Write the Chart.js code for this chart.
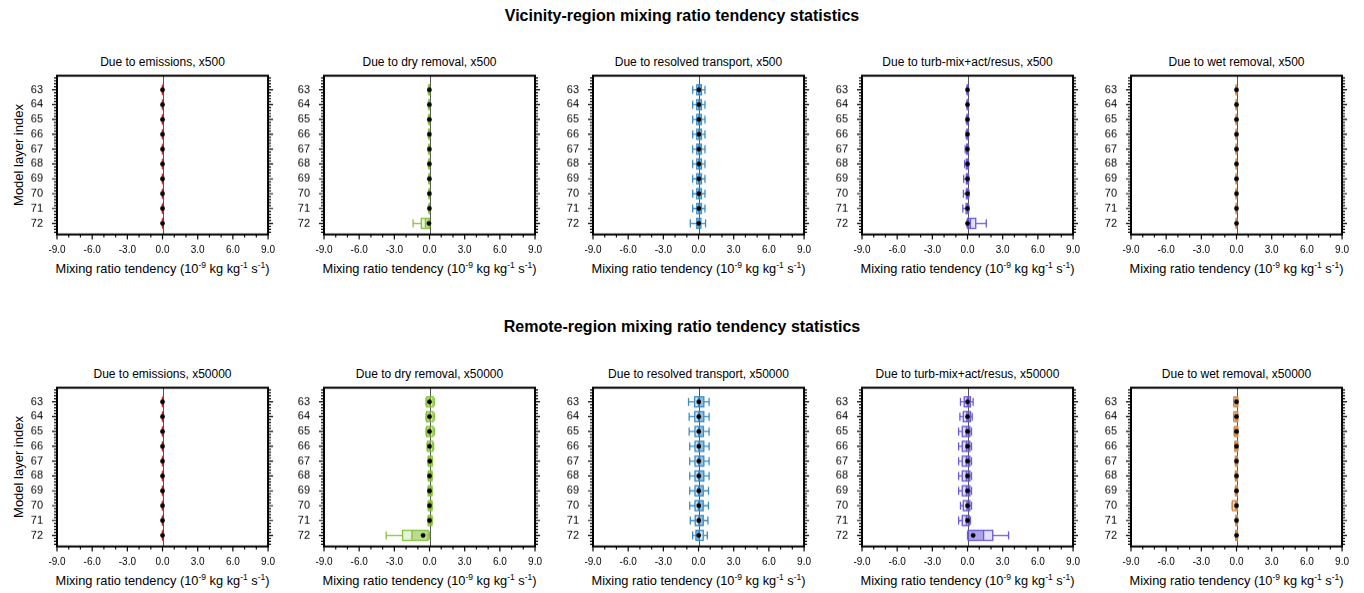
<!DOCTYPE html>
<html><head><meta charset="utf-8">
<script src="https://cdn.jsdelivr.net/npm/chart.js@4.4.1/dist/chart.umd.min.js"></script>
<style>
body{margin:0;background:#fff;width:1364px;height:593px;position:relative;overflow:hidden;font-family:"Liberation Sans",Arial,Helvetica,sans-serif;color:#000}
.t{position:absolute;white-space:nowrap;transform:translate(-50%,-50%);line-height:1;color:#000}
.main{font-weight:bold;font-size:16px}
.sub{font-size:12px}
.xt{font-size:12.8px}
.xt sup{font-size:8.5px;vertical-align:5px;line-height:0}
.yt{font-size:13px;transform:translate(-50%,-50%) rotate(-90deg)}
.box{position:absolute}
canvas{display:block}
</style></head><body>
<script>
// ---------- categories / labels ----------
const layers = [63, 64, 65, 66, 67, 68, 69, 70, 71, 72];
const xTickValues = [-9, -6, -3, 0, 3, 6, 9];
const rowTitles = ["Vicinity-region mixing ratio tendency statistics", "Remote-region mixing ratio tendency statistics"];
const processNames = ["emissions", "dry removal", "resolved transport", "turb-mix+act/resus", "wet removal"];
const rowFactors = ["x500", "x50000"];
const xAxisTitle = 'Mixing ratio tendency (10<sup>-9</sup> kg kg<sup>-1</sup> s<sup>-1</sup>)';
const yAxisTitle = "Model layer index";

// ---------- Vicinity region (x500) ----------
const vicEmisMin  = [0, 0, 0, 0, 0, 0, 0, 0, 0, 0];
const vicEmisQ1   = [0, 0, 0, 0, 0, 0, 0, 0, 0, 0];
const vicEmisMed  = [0, 0, 0, 0, 0, 0, 0, 0, 0, 0];
const vicEmisQ3   = [0, 0, 0, 0, 0, 0, 0, 0, 0, 0];
const vicEmisMax  = [0, 0, 0, 0, 0, 0, 0, 0, 0, 0];
const vicEmisMean = [0, 0, 0, 0, 0, 0, 0, 0, 0, 0];

const vicDryMin  = [-0.1, -0.1, -0.1, -0.1, -0.1, -0.1, -0.08, -0.08, -0.08, -1.4];
const vicDryQ1   = [-0.06, -0.06, -0.06, -0.06, -0.05, -0.05, -0.05, -0.04, -0.04, -0.7];
const vicDryMed  = [-0.03, -0.03, -0.03, -0.03, -0.02, -0.02, -0.02, -0.02, -0.02, -0.35];
const vicDryQ3   = [0, 0, 0, 0, 0, 0, 0, 0, 0, -0.02];
const vicDryMax  = [0, 0, 0, 0, 0, 0, 0, 0, 0, 0.02];
const vicDryMean = [-0.01, -0.01, -0.01, -0.01, -0.01, -0.01, -0.01, -0.01, -0.01, -0.05];

const vicTransMin  = [-0.5, -0.5, -0.5, -0.5, -0.5, -0.5, -0.5, -0.5, -0.5, -0.7];
const vicTransQ1   = [-0.15, -0.15, -0.15, -0.15, -0.15, -0.15, -0.15, -0.15, -0.15, -0.15];
const vicTransMed  = [0.02, 0.02, 0.02, 0.02, 0.02, 0.02, 0.02, 0.02, 0.02, 0.05];
const vicTransQ3   = [0.25, 0.25, 0.25, 0.25, 0.25, 0.25, 0.25, 0.25, 0.25, 0.2];
const vicTransMax  = [0.55, 0.55, 0.55, 0.55, 0.55, 0.55, 0.55, 0.55, 0.55, 0.6];
const vicTransMean = [0.03, 0.03, 0.03, 0.03, 0.03, 0.03, 0.03, 0.03, 0.03, 0.02];

const vicTurbMin  = [-0.05, -0.06, -0.1, -0.12, -0.2, -0.25, -0.33, -0.35, -0.4, -0.05];
const vicTurbQ1   = [-0.03, -0.03, -0.05, -0.06, -0.08, -0.1, -0.1, -0.1, -0.12, 0.0];
const vicTurbMed  = [0, 0, 0, 0, 0, -0.01, -0.01, -0.01, -0.01, 0.25];
const vicTurbQ3   = [0.02, 0.02, 0.02, 0.03, 0.03, 0.04, 0.05, 0.06, 0.05, 0.7];
const vicTurbMax  = [0.04, 0.04, 0.05, 0.06, 0.07, 0.08, 0.1, 0.12, 0.1, 1.6];
const vicTurbMean = [0, 0, 0, 0, 0, 0, 0, 0, 0, 0];

const vicWetMin  = [-0.05, -0.05, -0.05, -0.05, -0.05, -0.05, -0.05, -0.05, -0.05, -0.05];
const vicWetQ1   = [-0.03, -0.03, -0.03, -0.03, -0.03, -0.03, -0.03, -0.03, -0.03, -0.03];
const vicWetMed  = [-0.01, -0.01, -0.01, -0.01, -0.01, -0.01, -0.01, -0.01, -0.01, -0.01];
const vicWetQ3   = [0, 0, 0, 0, 0, 0, 0, 0, 0, 0];
const vicWetMax  = [0.02, 0.02, 0.02, 0.02, 0.02, 0.02, 0.02, 0.02, 0.02, 0.02];
const vicWetMean = [0, 0, 0, 0, 0, 0, 0, 0, 0, 0];

// ---------- Remote region (x50000) ----------
const remEmisMin  = [0, 0, 0, 0, 0, 0, 0, 0, 0, 0];
const remEmisQ1   = [0, 0, 0, 0, 0, 0, 0, 0, 0, 0];
const remEmisMed  = [0, 0, 0, 0, 0, 0, 0, 0, 0, 0];
const remEmisQ3   = [0, 0, 0, 0, 0, 0, 0, 0, 0, 0];
const remEmisMax  = [0, 0, 0, 0, 0, 0, 0, 0, 0, 0];
const remEmisMean = [0, 0, 0, 0, 0, 0, 0, 0, 0, 0];

const remDryMin  = [-0.3, -0.3, -0.3, -0.2, -0.12, -0.12, -0.12, -0.12, -0.12, -3.7];
const remDryQ1   = [-0.25, -0.25, -0.25, -0.18, -0.1, -0.1, -0.1, -0.1, -0.1, -2.3];
const remDryMed  = [0.02, 0.02, 0.02, 0.02, 0.05, 0.05, 0.05, 0.05, 0.05, -1.5];
const remDryQ3   = [0.3, 0.3, 0.3, 0.28, 0.22, 0.2, 0.2, 0.2, 0.2, -0.12];
const remDryMax  = [0.42, 0.42, 0.42, 0.35, 0.25, 0.22, 0.22, 0.22, 0.22, 0.0];
const remDryMean = [0, 0, 0, 0, 0.02, 0, 0, 0, 0, -0.55];

const remTransMin  = [-0.85, -0.8, -0.8, -0.75, -0.75, -0.75, -0.75, -0.75, -0.7, -0.5];
const remTransQ1   = [-0.33, -0.32, -0.3, -0.3, -0.3, -0.3, -0.3, -0.3, -0.28, -0.22];
const remTransMed  = [0.0, 0.0, 0.02, 0.02, 0.02, 0.02, 0.0, 0.0, 0.02, 0.05];
const remTransQ3   = [0.45, 0.45, 0.42, 0.45, 0.45, 0.45, 0.4, 0.4, 0.4, 0.4];
const remTransMax  = [0.9, 0.9, 0.9, 0.9, 0.9, 0.9, 0.85, 0.85, 0.8, 0.75];
const remTransMean = [0.02, 0.02, 0.02, 0.02, 0.02, 0.02, 0.02, 0.02, 0.02, 0.02];

const remTurbMin  = [-0.6, -0.65, -0.76, -0.76, -0.76, -0.76, -0.76, -0.6, -0.76, 0.0];
const remTurbQ1   = [-0.28, -0.36, -0.45, -0.45, -0.45, -0.45, -0.45, -0.36, -0.45, 0.05];
const remTurbMed  = [-0.02, -0.05, -0.1, -0.1, -0.1, -0.1, -0.1, -0.05, -0.1, 1.37];
const remTurbQ3   = [0.25, 0.25, 0.2, 0.2, 0.2, 0.2, 0.2, 0.2, 0.15, 2.15];
const remTurbMax  = [0.48, 0.4, 0.34, 0.34, 0.34, 0.34, 0.34, 0.34, 0.25, 3.5];
const remTurbMean = [0, 0, 0, 0, 0, 0, 0, 0, 0, 0.48];

const remWetMin  = [-0.25, -0.25, -0.2, -0.15, -0.1, -0.1, -0.1, -0.38, -0.08, -0.08];
const remWetQ1   = [-0.22, -0.22, -0.18, -0.14, -0.09, -0.09, -0.09, -0.34, -0.07, -0.07];
const remWetMed  = [-0.05, -0.05, -0.05, -0.04, -0.03, -0.03, -0.03, -0.1, -0.02, -0.02];
const remWetQ3   = [0.1, 0.1, 0.1, 0.1, 0.08, 0.08, 0.08, 0.05, 0.08, 0.08];
const remWetMax  = [0.1, 0.1, 0.1, 0.1, 0.08, 0.08, 0.08, 0.05, 0.08, 0.08];
const remWetMean = [0, 0, 0, 0, 0, 0, 0, 0, 0, 0];

// ---------- assembly ----------
const processColors = ["#cc2222", "#86c23a", "#3a8cc6", "#6a5ad8", "#d08a4a"];
const panelStats = [
  [
    [vicEmisMin, vicEmisQ1, vicEmisMed, vicEmisQ3, vicEmisMax, vicEmisMean],
    [vicDryMin, vicDryQ1, vicDryMed, vicDryQ3, vicDryMax, vicDryMean],
    [vicTransMin, vicTransQ1, vicTransMed, vicTransQ3, vicTransMax, vicTransMean],
    [vicTurbMin, vicTurbQ1, vicTurbMed, vicTurbQ3, vicTurbMax, vicTurbMean],
    [vicWetMin, vicWetQ1, vicWetMed, vicWetQ3, vicWetMax, vicWetMean]
  ],
  [
    [remEmisMin, remEmisQ1, remEmisMed, remEmisQ3, remEmisMax, remEmisMean],
    [remDryMin, remDryQ1, remDryMed, remDryQ3, remDryMax, remDryMean],
    [remTransMin, remTransQ1, remTransMed, remTransQ3, remTransMax, remTransMean],
    [remTurbMin, remTurbQ1, remTurbMed, remTurbQ3, remTurbMax, remTurbMean],
    [remWetMin, remWetQ1, remWetMed, remWetQ3, remWetMax, remWetMean]
  ]
];

// layout (pixels)
const panelLefts = [57, 324, 593, 862, 1131];
const plotW = 211, plotH = 158;
const rowTops = [76, 388];
const mainTitleY = [16, 327];
const subTitleY = [62, 374];
const xTitleY = [269, 581];
const padL = 60, padT = 10, padR = 16, padB = 32;

function rgba(hex, a) {
  const n = parseInt(hex.slice(1), 16);
  return `rgba(${(n >> 16) & 255},${(n >> 8) & 255},${n & 255},${a})`;
}

function addText(cls, html, x, y) {
  const d = document.createElement('div');
  d.className = 't ' + cls;
  d.innerHTML = html;
  d.style.left = x + 'px';
  d.style.top = y + 'px';
  document.body.appendChild(d);
}

const boxPlugin = {
  id: 'boxes',
  beforeDatasetsDraw(chart, args, opts) {
    const ctx = chart.ctx, xs = chart.scales.x, ys = chart.scales.y, a = chart.chartArea;
    ctx.save();
    ctx.strokeStyle = '#555';
    ctx.lineWidth = 1;
    const x0 = Math.round(xs.getPixelForValue(0)) + 0.5;
    ctx.beginPath(); ctx.moveTo(x0, a.top); ctx.lineTo(x0, a.bottom); ctx.stroke();
    const [mn, q1, md, q3, mx] = opts.stats;
    ctx.strokeStyle = opts.color;
    ctx.lineWidth = 1.3;
    layers.forEach((L, i) => {
      const y = ys.getPixelForValue(L);
      const pMin = xs.getPixelForValue(mn[i]), pQ1 = xs.getPixelForValue(q1[i]);
      const pQ3 = xs.getPixelForValue(q3[i]), pMax = xs.getPixelForValue(mx[i]);
      ctx.beginPath();
      ctx.moveTo(pMin, y); ctx.lineTo(pQ1, y);
      ctx.moveTo(pQ3, y); ctx.lineTo(pMax, y);
      ctx.moveTo(pMin, y - 4); ctx.lineTo(pMin, y + 4);
      ctx.moveTo(pMax, y - 4); ctx.lineTo(pMax, y + 4);
      ctx.stroke();
    });
    ctx.restore();
  },
  afterDatasetDraw(chart, args, opts) {
    if (args.meta.type !== 'bar') return;
    const ctx = chart.ctx, xs = chart.scales.x, ys = chart.scales.y;
    const [mn, q1, md, q3, mx, mean] = opts.stats;
    const h = 10;
    ctx.save();
    layers.forEach((L, i) => {
      const y = ys.getPixelForValue(L);
      const pQ1 = xs.getPixelForValue(q1[i]), pQ3 = xs.getPixelForValue(q3[i]);
      const pMd = xs.getPixelForValue(md[i]);
      const other = mean[i] >= md[i] ? pQ3 : pQ1;
      ctx.fillStyle = rgba(opts.color, 0.45);
      ctx.fillRect(Math.min(pMd, other), y - h / 2, Math.abs(other - pMd), h);
      ctx.strokeStyle = opts.color;
      ctx.lineWidth = 1.3;
      ctx.strokeRect(pQ1, y - h / 2, pQ3 - pQ1, h);
      ctx.beginPath(); ctx.moveTo(pMd, y - h / 2); ctx.lineTo(pMd, y + h / 2); ctx.stroke();
    });
    ctx.restore();
  },
  afterDraw(chart) {
    const ctx = chart.ctx, xs = chart.scales.x, ys = chart.scales.y, a = chart.chartArea;
    ctx.save();
    ctx.strokeStyle = '#000';
    ctx.lineWidth = 1.2;
    ctx.beginPath();
    for (let v = -9; v <= 9; v += 1) {
      const x = xs.getPixelForValue(v);
      const len = (v % 3 === 0) ? 5 : 3;
      ctx.moveTo(x, a.bottom); ctx.lineTo(x, a.bottom + len);
    }
    for (let k = 0; k <= 54; k++) {
      const v = 62.2 + k * 0.2;
      if (v > ys.max) break;
      const isMajor = Math.abs(v - Math.round(v)) < 1e-6;
      const y = ys.getPixelForValue(v);
      const len = isMajor ? 5 : 3;
      ctx.moveTo(a.left, y); ctx.lineTo(a.left - len, y);
      ctx.moveTo(a.right, y); ctx.lineTo(a.right + len, y);
    }
    ctx.stroke();
    ctx.lineWidth = 2;
    ctx.strokeRect(a.left, a.top, a.right - a.left, a.bottom - a.top);
    ctx.restore();
  }
};

rowTitles.forEach((t, r) => addText('main', t, 682, mainTitleY[r]));
addText('yt', yAxisTitle, 18, rowTops[0] + plotH / 2);
addText('yt', yAxisTitle, 18, rowTops[1] + plotH / 2);

for (let r = 0; r < 2; r++) {
  for (let c = 0; c < 5; c++) {
    const L = panelLefts[c], T = rowTops[r];
    const cx = L + plotW / 2;
    addText('sub', `Due to ${processNames[c]}, ${rowFactors[r]}`, cx, subTitleY[r]);
    addText('xt', xAxisTitle, cx, xTitleY[r]);

    const div = document.createElement('div');
    div.className = 'box';
    let W = padL + plotW + padR, H = padT + plotH + padB;
    div.style.left = (L - padL) + 'px';
    div.style.top = (T - padT) + 'px';
    const cv = document.createElement('canvas');
    cv.width = W; cv.height = H;
    cv.style.width = W + 'px'; cv.style.height = H + 'px';
    div.appendChild(cv);
    document.body.appendChild(div);

    const st = panelStats[r][c];
    const color = processColors[c];
    const chart = new Chart(cv, {
      type: 'bar',
      data: {
        datasets: [
          {
            type: 'scatter',
            order: 0,
            data: layers.map((l, i) => ({ x: st[5][i], y: l })),
            pointRadius: 2.4,
            pointBackgroundColor: '#000',
            pointBorderWidth: 0,
            showLine: false
          },
          {
            type: 'bar',
            order: 1,
            data: layers.map((l, i) => ({ x: [st[1][i], st[3][i]], y: l })),
            backgroundColor: rgba(color, 0.2),
            borderWidth: 0,
            barThickness: 10
          }
        ]
      },
      options: {
        indexAxis: 'y',
        animation: false,
        responsive: false,
        maintainAspectRatio: false,
        devicePixelRatio: 1,
        layout: { padding: { left: 0, top: padT, right: padR, bottom: 0 } },
        plugins: {
          legend: { display: false },
          tooltip: { enabled: false },
          title: { display: false },
          boxes: { stats: st, color: color }
        },
        scales: {
          x: {
            type: 'linear', min: -9, max: 9, offset: false,
            grid: { display: false, drawTicks: false, offset: false },
            border: { display: false },
            ticks: {
              stepSize: 3, autoSkip: false, maxRotation: 0, padding: 10,
              color: '#000', font: { family: 'Liberation Sans', size: 10 },
              callback: v => Number(v).toFixed(1)
            },
            afterFit: s => { s.height = padB; }
          },
          y: {
            type: 'linear', reverse: true, min: 62.05, max: 72.75, offset: false,
            grid: { display: false, drawTicks: false, offset: false },
            border: { display: false },
            afterBuildTicks: s => { s.ticks = layers.map(v => ({ value: v })); },
            ticks: {
              autoSkip: false, padding: 14,
              color: '#000', font: { family: 'Liberation Sans', size: 11 },
              callback: v => String(v)
            },
            afterFit: s => { s.width = padL; }
          }
        }
      },
      plugins: [boxPlugin]
    });
    for (let it = 0; it < 3; it++) {
      const a = chart.chartArea;
      const dw = plotW - (a.right - a.left), dh = plotH - (a.bottom - a.top);
      if (Math.abs(dw) < 0.5 && Math.abs(dh) < 0.5) break;
      W += dw; H += dh;
      cv.style.width = W + 'px'; cv.style.height = H + 'px';
      chart.resize(W, H);
    }
    const a = chart.chartArea;
    div.style.left = (L - a.left) + 'px';
    div.style.top = (T - a.top) + 'px';
  }
}
</script>
</body></html>
